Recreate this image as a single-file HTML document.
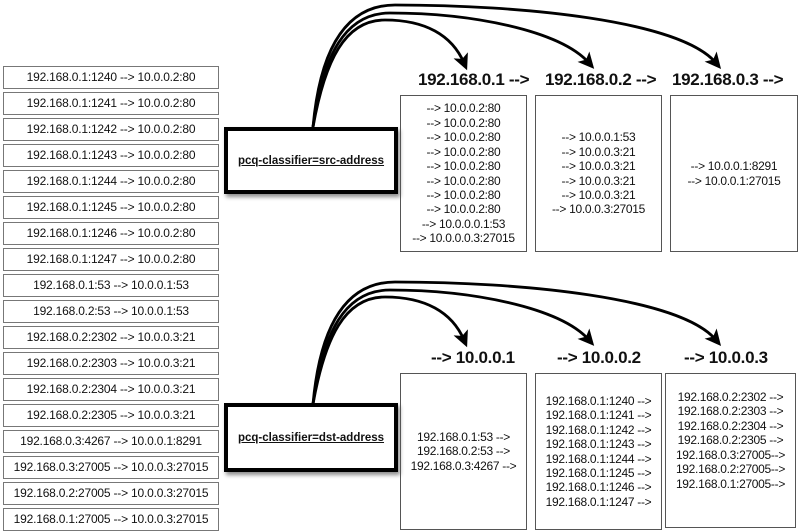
<!DOCTYPE html>
<html><head><meta charset="utf-8"><style>
body{margin:0;width:798px;height:532px;background:#fff;position:relative;overflow:hidden;font-family:"Liberation Sans",sans-serif;color:#111}
.l{position:absolute;left:3px;width:214px;height:21px;border:1px solid #777;font-size:12px;line-height:21px;text-align:center;letter-spacing:-0.2px}
.c{position:absolute;left:224px;width:166px;border:4px solid #000;background:#fff;box-shadow:2px 3px 4px rgba(0,0,0,.45);font-size:11.5px;font-weight:bold;text-decoration:underline;display:flex;align-items:center;justify-content:center}
.h{position:absolute;font-size:17px;font-weight:bold;white-space:nowrap;letter-spacing:-0.3px}
.b{position:absolute;border:1px solid #555;font-size:12px;line-height:14.4px;text-align:center;display:flex;flex-direction:column;justify-content:center;letter-spacing:-0.3px;white-space:nowrap}
svg{position:absolute;left:0;top:0}
</style></head><body>
<div class="l" style="top:66px">192.168.0.1:1240 --&gt; 10.0.0.2:80</div>
<div class="l" style="top:92px">192.168.0.1:1241 --&gt; 10.0.0.2:80</div>
<div class="l" style="top:118px">192.168.0.1:1242 --&gt; 10.0.0.2:80</div>
<div class="l" style="top:144px">192.168.0.1:1243 --&gt; 10.0.0.2:80</div>
<div class="l" style="top:170px">192.168.0.1:1244 --&gt; 10.0.0.2:80</div>
<div class="l" style="top:196px">192.168.0.1:1245 --&gt; 10.0.0.2:80</div>
<div class="l" style="top:222px">192.168.0.1:1246 --&gt; 10.0.0.2:80</div>
<div class="l" style="top:248px">192.168.0.1:1247 --&gt; 10.0.0.2:80</div>
<div class="l" style="top:274px">192.168.0.1:53 --&gt; 10.0.0.1:53</div>
<div class="l" style="top:300px">192.168.0.2:53 --&gt; 10.0.0.1:53</div>
<div class="l" style="top:326px">192.168.0.2:2302 --&gt; 10.0.0.3:21</div>
<div class="l" style="top:352px">192.168.0.2:2303 --&gt; 10.0.0.3:21</div>
<div class="l" style="top:378px">192.168.0.2:2304 --&gt; 10.0.0.3:21</div>
<div class="l" style="top:404px">192.168.0.2:2305 --&gt; 10.0.0.3:21</div>
<div class="l" style="top:430px">192.168.0.3:4267 --&gt; 10.0.0.1:8291</div>
<div class="l" style="top:456px">192.168.0.3:27005 --&gt; 10.0.0.3:27015</div>
<div class="l" style="top:482px">192.168.0.2:27005 --&gt; 10.0.0.3:27015</div>
<div class="l" style="top:508px">192.168.0.1:27005 --&gt; 10.0.0.3:27015</div>

<div class="c" style="top:127px;height:59px">pcq-classifier=src-address</div>
<div class="c" style="top:403px;height:61px">pcq-classifier=dst-address</div>

<svg width="798" height="532" viewBox="0 0 798 532">
<defs><marker id="a" markerWidth="6" markerHeight="6" refX="3" refY="3" orient="auto" markerUnits="strokeWidth"><path d="M0,0.2 L5.8,3 L0,5.8 L1.4,3 Z" fill="#000"/></marker></defs>
<g fill="none" stroke="#000" stroke-width="2.8" marker-end="url(#a)">
<path d="M313,127 C325,60 345,20 385,20 C425,20 452,35 464,63"/>
<path d="M313,127 C323,55 345,13 390,13 C470,13 560,30 589,63"/>
<path d="M313,127 C320,50 345,5 395,5 C520,5 680,20 716,63"/>
<g transform="translate(0,277)">
<path d="M313,127 C325,60 345,20 385,20 C425,20 452,35 464,63"/>
<path d="M313,127 C323,55 345,13 390,13 C470,13 560,30 589,63"/>
<path d="M313,127 C320,50 345,5 395,5 C520,5 680,20 716,63"/>
</g></g></svg>

<div class="h" style="left:418px;top:70px">192.168.0.1 --&gt;</div>
<div class="h" style="left:545px;top:70px">192.168.0.2 --&gt;</div>
<div class="h" style="left:672px;top:70px">192.168.0.3 --&gt;</div>
<div class="b" style="left:400px;top:95px;width:125px;height:155px">--&gt; 10.0.0.2:80<br>--&gt; 10.0.0.2:80<br>--&gt; 10.0.0.2:80<br>--&gt; 10.0.0.2:80<br>--&gt; 10.0.0.2:80<br>--&gt; 10.0.0.2:80<br>--&gt; 10.0.0.2:80<br>--&gt; 10.0.0.2:80<br>--&gt; 10.0.0.0.1:53<br>--&gt; 10.0.0.0.3:27015</div>
<div class="b" style="left:535px;top:95px;width:125px;height:155px">--&gt; 10.0.0.1:53<br>--&gt; 10.0.0.3:21<br>--&gt; 10.0.0.3:21<br>--&gt; 10.0.0.3:21<br>--&gt; 10.0.0.3:21<br>--&gt; 10.0.0.3:27015</div>
<div class="b" style="left:670px;top:95px;width:126px;height:155px">--&gt; 10.0.0.1:8291<br>--&gt; 10.0.0.1:27015</div>

<div class="h" style="left:431px;top:348px">--&gt; 10.0.0.1</div>
<div class="h" style="left:557px;top:348px">--&gt; 10.0.0.2</div>
<div class="h" style="left:684px;top:348px">--&gt; 10.0.0.3</div>
<div class="b" style="left:400px;top:373px;width:125px;height:155px">192.168.0.1:53 --&gt;<br>192.168.0.2:53 --&gt;<br>192.168.0.3:4267 --&gt;</div>
<div class="b" style="left:535px;top:373px;width:125px;height:155px">192.168.0.1:1240 --&gt;<br>192.168.0.1:1241 --&gt;<br>192.168.0.1:1242 --&gt;<br>192.168.0.1:1243 --&gt;<br>192.168.0.1:1244 --&gt;<br>192.168.0.1:1245 --&gt;<br>192.168.0.1:1246 --&gt;<br>192.168.0.1:1247 --&gt;</div>
<div class="b" style="left:665px;top:373px;width:131px;height:155px;padding-bottom:20px;box-sizing:border-box">192.168.0.2:2302 --&gt;<br>192.168.0.2:2303 --&gt;<br>192.168.0.2:2304 --&gt;<br>192.168.0.2:2305 --&gt;<br>192.168.0.3:27005--&gt;<br>192.168.0.2:27005--&gt;<br>192.168.0.1:27005--&gt;</div>
</body></html>
